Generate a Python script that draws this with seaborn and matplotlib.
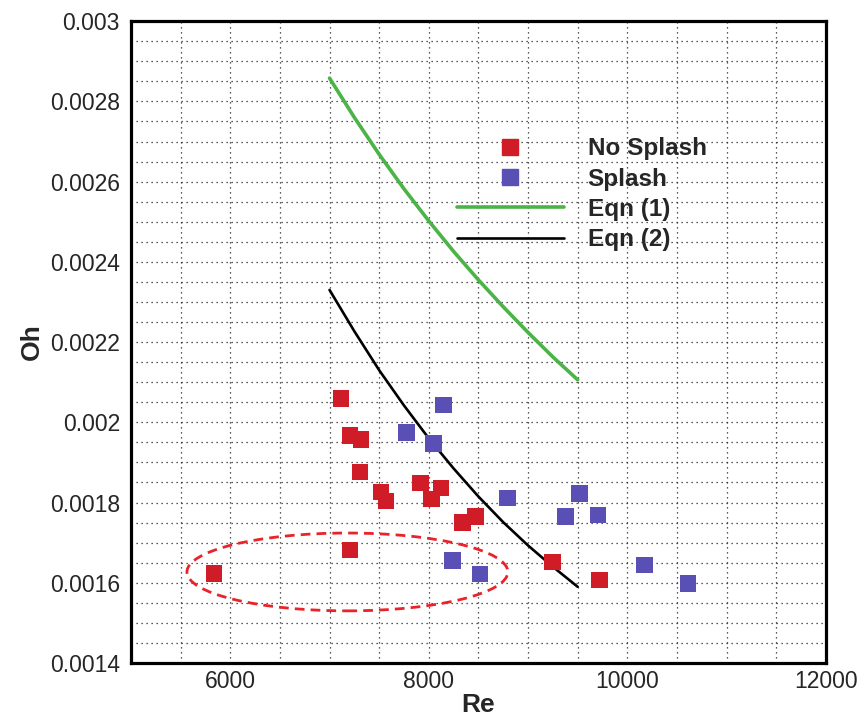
import numpy as np
import pandas as pd
import seaborn as sns
import matplotlib.pyplot as plt
from matplotlib.ticker import MultipleLocator, FuncFormatter
from matplotlib.patches import Ellipse
from matplotlib.lines import Line2D

# data
no_splash_re = [5836, 7115, 7205, 7316, 7306, 7518, 7568, 7920, 8031, 8122, 8343, 8474, 7205, 9250, 9723]
no_splash_oh = [0.001624, 0.002060, 0.001968, 0.001958, 0.001876, 0.001826, 0.001804, 0.001849,
                0.001809, 0.001836, 0.001751, 0.001766, 0.001682, 0.001652, 0.001607]
splash_re = [8145, 7776, 8044, 8794, 9522, 9381, 9706, 8240, 8515, 10176, 10612]
splash_oh = [0.002043, 0.001974, 0.001948, 0.001811, 0.001823, 0.001765, 0.001769,
             0.001655, 0.001622, 0.001644, 0.001599]

eqn_re = [7000, 7250, 7500, 7750, 8000, 8250, 8500, 8750, 9000, 9250, 9500]
eqn1_oh = [0.002858, 0.002760, 0.002668, 0.002582, 0.002502, 0.002426, 0.002355,
           0.002288, 0.002224, 0.002163, 0.002106]
eqn2_oh = [0.002330, 0.002227, 0.002130, 0.002042, 0.001960, 0.001885, 0.001815,
           0.001751, 0.001693, 0.001640, 0.001590]

red = '#d01c26'
blue = '#5a4fb4'
green = '#4cb447'

df = pd.DataFrame({
    'Re': no_splash_re + splash_re,
    'Oh': no_splash_oh + splash_oh,
    'Case': ['No Splash'] * len(no_splash_re) + ['Splash'] * len(splash_re),
})

sns.set_style('white')
plt.rcParams['font.family'] = ['Liberation Sans', 'DejaVu Sans']

fig = plt.figure(figsize=(8.62, 7.22), dpi=100)
ax = fig.add_axes([0.152, 0.0817, 0.806, 0.889])

sns.scatterplot(data=df, x='Re', y='Oh', hue='Case', palette={'No Splash': red, 'Splash': blue},
                marker='s', s=145, linewidth=0, ax=ax, legend=False, zorder=3)
sns.lineplot(x=eqn_re, y=eqn1_oh, color=green, linewidth=2.6, ax=ax, zorder=2)
sns.lineplot(x=eqn_re, y=eqn2_oh, color='black', linewidth=1.9, ax=ax, zorder=2)

# dashed ellipse around the low-Oh cases
ax.add_patch(Ellipse((7180, 0.001627), 3233, 0.000194, fill=False, edgecolor='#e8232a',
                     linestyle=(0, (3.5, 2.2)), linewidth=2.0, zorder=2))

ax.set_xlim(5000, 12000)
ax.set_ylim(0.0014, 0.003)
ax.xaxis.set_major_locator(MultipleLocator(2000))
ax.xaxis.set_minor_locator(MultipleLocator(500))
ax.yaxis.set_major_locator(MultipleLocator(0.0002))
ax.yaxis.set_minor_locator(MultipleLocator(0.00005))
ax.yaxis.set_major_formatter(FuncFormatter(lambda v, p: '%g' % round(v, 6)))
ax.xaxis.set_major_formatter(FuncFormatter(lambda v, p: '%d' % v))

ax.grid(True, which='both', color='0.15', linestyle=(0, (1, 3)), linewidth=0.9)
ax.set_axisbelow(True)
for s in ax.spines.values():
    s.set_linewidth(2.3)
    s.set_color('black')
ax.tick_params(which='both', direction='in', top=False, right=False, width=2.0, color='black')
ax.tick_params(which='major', length=8, labelsize=16.5)
ax.tick_params(axis='x', which='major', pad=5)
ax.tick_params(axis='y', which='major', pad=8)
ax.tick_params(which='minor', length=4, width=1.2)

ax.set_xlabel('Re', fontsize=19, fontweight='bold', labelpad=0)
ax.set_ylabel('Oh', fontsize=19, fontweight='bold', labelpad=4)

handles = [
    Line2D([], [], marker='s', color=red, linestyle='none', markersize=11),
    Line2D([], [], marker='s', color=blue, linestyle='none', markersize=11),
    Line2D([], [], color=green, linewidth=2.6),
    Line2D([], [], color='black', linewidth=1.9),
]
labels = ['No Splash', 'Splash', 'Eqn (1)', 'Eqn (2)']
leg = ax.legend(handles, labels, loc='upper left', bbox_to_anchor=(0.469, 0.819), frameon=False,
                prop={'weight': 'bold', 'size': 17.5}, handlelength=4.4, handletextpad=0.98,
                labelspacing=0.30, borderpad=0, borderaxespad=0)

fig.savefig('out.png', dpi=100)
